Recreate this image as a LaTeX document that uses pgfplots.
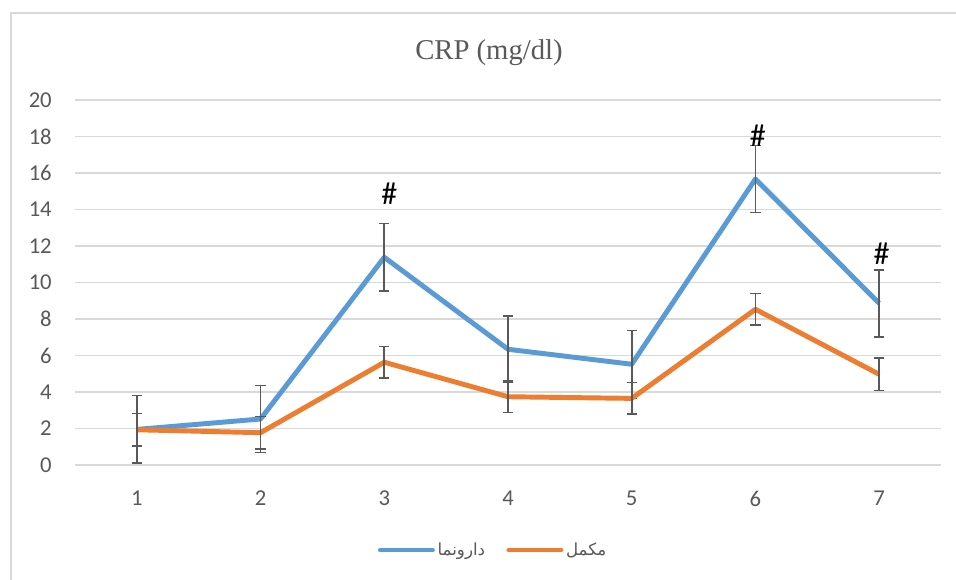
\documentclass[border=0pt]{standalone}
\usepackage{fontspec}
\setmainfont{Carlito}
\newfontfamily\titlefont{Liberation Serif}
\newfontfamily\arabicfont[Script=Arabic]{DejaVu Sans}
\TeXXeTstate=1
\usepackage{pgfplots}
\pgfplotsset{compat=1.18}
\definecolor{cblue}{HTML}{5B9BD5}
\definecolor{corange}{HTML}{ED7D31}
\definecolor{cgrid}{HTML}{D9D9D9}
\definecolor{ctext}{HTML}{595959}
\definecolor{cerr}{HTML}{595959}
\begin{document}
\begin{tikzpicture}
\useasboundingbox (0pt,0pt) rectangle (717pt,435pt);
\fill[white] (0pt,0pt) rectangle (717pt,435pt);
\draw[cgrid, line width=1.3pt] (8.25pt,0pt) -- (8.25pt,425.25pt) -- (717pt,425.25pt);
\node[anchor=base, text=ctext, font=\titlefont\fontsize{21.5}{24}\selectfont, inner sep=0pt] at (366.75pt,390.5pt) {CRP (mg/dl)};
\begin{axis}[
  at={(56.25pt,86.25pt)}, anchor=south west,
  scale only axis, width=649.5pt, height=273.75pt,
  xmin=0.5, xmax=7.5, ymin=0, ymax=20,
  xtick={1,2,3,4,5,6,7}, ytick={0,2,...,20},
  axis line style={draw=none},
  major tick length=0pt,
  ymajorgrids, grid style={cgrid, line width=0.9pt},
  /pgf/number format/assume math mode=true,
  tick label style={font=\fontsize{17}{20}\selectfont, text=ctext},
  yticklabel style={inner sep=0pt, xshift=-17.25pt},
  xticklabel style={inner sep=0pt, yshift=-19.5pt},
  legend style={draw=none, fill=none, at={(rel axis cs:0.4833,-0.2329)}, anchor=center,
    legend columns=2, font=\arabicfont\fontsize{12.5}{15}\selectfont, text=ctext,
    /tikz/every even column/.append style={column sep=14pt},
    cells={anchor=west}},
  legend image code/.code={\draw[#1, line cap=round] (0pt,0pt) -- (39pt,0pt);},
  clip=false,
]
\addplot[cblue, line width=3.7pt, line join=round, no markers,
  error bars/.cd, y dir=both, y explicit,
  error bar style={cerr, line width=1.2pt},
  error mark options={rotate=90, cerr, line width=1.2pt, mark size=3.9pt}]
  coordinates {
  (1,1.95) +- (0,1.85)
  (2,2.52) +- (0,1.83)
  (3,11.38) +- (0,1.85)
  (4,6.34) +- (0,1.82)
  (5,5.52) +- (0,1.84)
  (6,15.67) +- (0,1.84)
  (7,8.86) +- (0,1.84)
  };
\addlegendentry{\beginR دارونما\endR}
\addplot[corange, line width=3.7pt, line join=round, no markers,
  error bars/.cd, y dir=both, y explicit,
  error bar style={cerr, line width=1.2pt},
  error mark options={rotate=90, cerr, line width=1.2pt, mark size=3.9pt}]
  coordinates {
  (1,1.93) +- (0,0.89)
  (2,1.77) +- (0,0.89)
  (3,5.63) +- (0,0.87)
  (4,3.74) +- (0,0.87)
  (5,3.65) +- (0,0.86)
  (6,8.53) +- (0,0.87)
  (7,4.97) +- (0,0.88)
  };
\addlegendentry{\beginR مکمل\endR}
\node[font=\fontsize{24}{26}\selectfont, inner sep=0pt] at (axis cs:3.04,14.85) {\#};
\node[font=\fontsize{24}{26}\selectfont, inner sep=0pt] at (axis cs:6.02,18.04) {\#};
\node[font=\fontsize{24}{26}\selectfont, inner sep=0pt] at (axis cs:7.02,11.56) {\#};
\end{axis}
\end{tikzpicture}
\end{document}
